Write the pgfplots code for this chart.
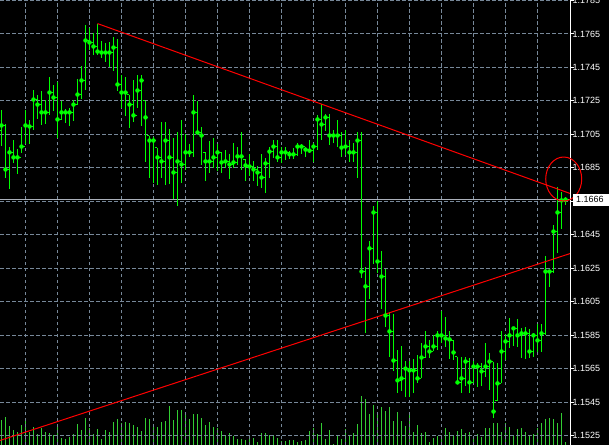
\documentclass[border=0pt]{standalone}
\usepackage{pgfplots}
\pgfplotsset{compat=1.18}
\usepackage{pgfplotstable}
\usepackage{fontspec}
\setmainfont{Liberation Sans}

\definecolor{barlime}{RGB}{0,255,0}
\definecolor{vollime}{RGB}{50,205,50}
\definecolor{gridgray}{RGB}{119,136,153}
\definecolor{bidgray}{RGB}{170,176,186}

% hourly bars: index, open, high, low, close
\pgfplotstableread{
i o h l c
0 1.17073 1.17193 1.16983 1.17103
1 1.17103 1.17109 1.16792 1.16840
2 1.16840 1.16977 1.16726 1.16942
3 1.16942 1.17019 1.16876 1.16912
4 1.16912 1.16965 1.16810 1.16912
5 1.16912 1.17091 1.16936 1.16977
6 1.16977 1.17193 1.16995 1.17103
7 1.17103 1.17133 1.16995 1.17097
8 1.17097 1.17318 1.17073 1.17258
9 1.17258 1.17288 1.17139 1.17228
10 1.17228 1.17312 1.17103 1.17181
11 1.17181 1.17258 1.17109 1.17181
12 1.17181 1.17390 1.17163 1.17300
13 1.17300 1.17342 1.17187 1.17270
14 1.17270 1.17360 1.17031 1.17139
15 1.17139 1.17252 1.17133 1.17181
16 1.17181 1.17199 1.17115 1.17181
17 1.17181 1.17210 1.17097 1.17181
18 1.17181 1.17258 1.17127 1.17228
19 1.17228 1.17378 1.17228 1.17288
20 1.17288 1.17461 1.17264 1.17372
21 1.17372 1.17701 1.17318 1.17611
22 1.17611 1.17683 1.17557 1.17599
23 1.17599 1.17653 1.17527 1.17575
24 1.17575 1.17712 1.17527 1.17545
25 1.17545 1.17605 1.17509 1.17539
26 1.17539 1.17593 1.17485 1.17539
27 1.17539 1.17599 1.17455 1.17539
28 1.17539 1.17629 1.17426 1.17569
29 1.17569 1.17617 1.17312 1.17348
30 1.17348 1.17402 1.17205 1.17300
31 1.17300 1.17390 1.17157 1.17300
32 1.17288 1.17288 1.17085 1.17228
33 1.17228 1.17372 1.17121 1.17163
34 1.17163 1.17402 1.17205 1.17312
35 1.17312 1.17402 1.17097 1.17372
36 1.17252 1.17252 1.16882 1.17151
37 1.17043 1.17043 1.16792 1.17013
38 1.17013 1.17037 1.16762 1.17013
39 1.16971 1.16971 1.16750 1.16912
40 1.16912 1.17121 1.16792 1.16888
41 1.16888 1.17121 1.16750 1.17013
42 1.17013 1.17079 1.16756 1.16912
43 1.16912 1.17031 1.16661 1.16822
44 1.16822 1.17061 1.16619 1.16888
45 1.16888 1.17133 1.16762 1.16870
46 1.16870 1.17055 1.16834 1.16942
47 1.16942 1.16995 1.16912 1.16942
48 1.16942 1.17288 1.16912 1.17181
49 1.17181 1.17252 1.17055 1.17061
50 1.17061 1.17091 1.16864 1.17043
51 1.16942 1.16942 1.16774 1.16888
52 1.16888 1.17013 1.16816 1.16888
53 1.16888 1.17031 1.16846 1.16912
54 1.16912 1.16995 1.16828 1.16942
55 1.16942 1.16947 1.16816 1.16882
56 1.16882 1.16959 1.16846 1.16888
57 1.16888 1.16930 1.16786 1.16870
58 1.16870 1.17001 1.16846 1.16882
59 1.16882 1.16977 1.16864 1.16918
60 1.16918 1.17061 1.16834 1.16918
61 1.16900 1.16900 1.16774 1.16864
62 1.16864 1.16930 1.16798 1.16858
63 1.16858 1.16888 1.16774 1.16840
64 1.16840 1.16858 1.16744 1.16822
65 1.16822 1.16930 1.16732 1.16792
66 1.16792 1.16906 1.16702 1.16876
67 1.16876 1.16977 1.16792 1.16947
68 1.16947 1.17019 1.16906 1.16977
69 1.16977 1.17019 1.16882 1.16912
70 1.16912 1.16977 1.16876 1.16942
71 1.16942 1.16977 1.16894 1.16942
72 1.16942 1.16953 1.16900 1.16930
73 1.16930 1.16971 1.16900 1.16930
74 1.16930 1.17001 1.16918 1.16977
75 1.16977 1.16995 1.16930 1.16977
76 1.16977 1.16977 1.16912 1.16959
77 1.16959 1.17019 1.16936 1.16953
78 1.16953 1.17001 1.16882 1.16977
79 1.16977 1.17163 1.16959 1.17139
80 1.17139 1.17234 1.17019 1.17109
81 1.17109 1.17169 1.17067 1.17151
82 1.17151 1.17169 1.16989 1.17043
83 1.17043 1.17073 1.17001 1.17043
84 1.17043 1.17133 1.16977 1.17043
85 1.17043 1.17061 1.16912 1.16971
86 1.16971 1.17073 1.16924 1.16977
87 1.16977 1.17019 1.16882 1.16942
88 1.16942 1.17001 1.16882 1.16942
89 1.16942 1.17061 1.16792 1.17013
90 1.17013 1.17061 1.16194 1.16230
91 1.16230 1.16260 1.15860 1.16141
92 1.16141 1.16410 1.16063 1.16368
93 1.16368 1.16619 1.16272 1.16583
94 1.16583 1.16649 1.16224 1.16290
95 1.16290 1.16350 1.16003 1.16200
96 1.16200 1.16248 1.15901 1.15967
97 1.15967 1.15991 1.15722 1.15872
98 1.15872 1.15979 1.15633 1.15698
99 1.15698 1.15758 1.15501 1.15579
100 1.15579 1.15782 1.15513 1.15591
101 1.15591 1.15698 1.15477 1.15650
102 1.15650 1.15698 1.15477 1.15639
103 1.15639 1.15710 1.15501 1.15639
104 1.15639 1.15734 1.15561 1.15591
105 1.15591 1.15800 1.15591 1.15716
106 1.15716 1.15872 1.15716 1.15782
107 1.15782 1.15818 1.15716 1.15752
108 1.15752 1.15848 1.15752 1.15782
109 1.15782 1.15872 1.15758 1.15848
110 1.15848 1.15997 1.15800 1.15848
111 1.15848 1.15961 1.15776 1.15830
112 1.15830 1.15872 1.15710 1.15824
113 1.15818 1.15818 1.15704 1.15746
114 1.15722 1.15722 1.15561 1.15567
115 1.15567 1.15722 1.15501 1.15591
116 1.15591 1.15722 1.15543 1.15692
117 1.15692 1.15716 1.15501 1.15567
118 1.15567 1.15698 1.15561 1.15662
119 1.15662 1.15686 1.15537 1.15662
120 1.15662 1.15686 1.15543 1.15633
121 1.15633 1.15800 1.15597 1.15662
122 1.15662 1.15740 1.15519 1.15692
123 1.15692 1.15692 1.15352 1.15393
124 1.15459 1.15686 1.15459 1.15561
125 1.15561 1.15872 1.15561 1.15752
126 1.15752 1.15854 1.15704 1.15812
127 1.15812 1.15955 1.15770 1.15848
128 1.15848 1.15890 1.15782 1.15890
129 1.15890 1.15949 1.15776 1.15848
130 1.15848 1.15890 1.15716 1.15860
131 1.15860 1.15896 1.15710 1.15860
132 1.15860 1.15884 1.15716 1.15752
133 1.15752 1.15860 1.15722 1.15848
134 1.15848 1.15919 1.15746 1.15818
135 1.15818 1.15919 1.15746 1.15860
136 1.15860 1.16320 1.15848 1.16230
137 1.16230 1.16242 1.16135 1.16230
138 1.16230 1.16511 1.16224 1.16469
139 1.16469 1.16738 1.16338 1.16583
140 1.16583 1.16708 1.16487 1.16655
141 1.16655 1.16678 1.16625 1.16660
}\bars

% tick volume of each bar
\pgfplotstableread{
i v
0 25
1 28
2 19
3 15
4 13
5 20
6 27
7 13
8 18
9 11
10 17
11 13
12 12
13 10
14 21
15 7
16 6
17 8
18 11
19 21
20 15
21 27
22 17
23 11
24 16
25 6
26 15
27 13
28 23
29 26
30 22
31 23
32 22
33 20
34 18
35 14
36 27
37 26
38 21
39 18
40 23
41 24
42 39
43 25
44 35
45 35
46 33
47 26
48 31
49 31
50 27
51 20
52 23
53 18
54 17
55 14
56 10
57 12
58 9
59 6
60 6
61 5
62 9
63 7
64 3
65 12
66 12
67 10
68 9
69 7
70 4
71 4
72 5
73 5
74 3
75 4
76 5
77 14
78 17
79 11
80 22
81 6
82 15
83 1
84 9
85 6
86 16
87 9
88 12
89 21
90 49
91 46
92 31
93 40
94 33
95 38
96 34
97 38
98 24
99 33
100 24
101 19
102 32
103 13
104 20
105 12
106 13
107 3
108 7
109 9
110 10
111 17
112 13
113 9
114 14
115 16
116 12
117 13
118 8
119 11
120 8
121 17
122 17
123 22
124 22
125 13
126 22
127 18
128 10
129 16
130 17
131 13
132 10
133 11
134 17
135 22
136 26
137 27
138 26
139 22
140 32
141 3
}\vols

\begin{document}
\begin{tikzpicture}
\useasboundingbox (0,0) rectangle (609pt,445pt);
\fill[black] (0,0) rectangle (609pt,445pt);
\clip (0,0) rectangle (609pt,445pt);

% volumes along the bottom edge
\begin{axis}[
  at={(0,0)}, anchor=south west, scale only axis,
  width=570.5pt, height=445pt,
  xmin=-0.375, xmax=142.25, ymin=0, ymax=445,
  hide axis,
]
\addplot[ycomb, vollime, line width=1pt, mark=none] table[x=i, y=v] {\vols};
\end{axis}

% price bars, grid and trend lines
\begin{axis}[
  name=main,
  at={(0,0)}, anchor=south west, scale only axis,
  width=570.5pt, height=445pt,
  xmin=-0.375, xmax=142.25, ymin=1.15193, ymax=1.17853,
  axis line style={draw=none},
  xtick={6,14,...,134}, xticklabels={}, xtick style={draw=none},
  ytick={1.1525,1.1545,1.1565,1.1585,1.1605,1.1625,1.1645,1.1665,1.1685,1.1705,1.1725,1.1745,1.1765,1.1785},
  % the 1.1665 level sits under the bid price box
  yticklabels={1.1525,1.1545,1.1565,1.1585,1.1605,1.1625,1.1645,,1.1685,1.1705,1.1725,1.1745,1.1765,1.1785},
  ytick pos=right, yticklabel pos=right,
  tick align=outside, major tick length=3pt,
  ytick style={white, line width=1pt},
  yticklabel style={white, font=\fontsize{9}{10}\selectfont, anchor=west, inner sep=0pt, xshift=-1pt},
  grid=major,
  major grid style={gridgray, line width=1pt, dash pattern=on 3.5pt off 2.5pt},
]
% bid line
\addplot[bidgray, line width=1pt, mark=none] coordinates {(-1,1.1666) (150,1.1666)};
% high-low ranges
\addplot[barlime, only marks, mark=none,
  error bars/.cd, y dir=both, y explicit, error mark=none,
  error bar style={barlime, line width=1pt}]
  table[x=i, y=c,
    y error plus expr=\thisrow{h}-\thisrow{c},
    y error minus expr=\thisrow{c}-\thisrow{l}] {\bars};
% open ticks (left) and close ticks (right)
\addplot[barlime, only marks, mark=-, mark size=0.8pt,
  mark options={xshift=-1.3pt, line width=0.9pt}] table[x=i, y=o] {\bars};
\addplot[barlime, only marks, mark=-, mark size=0.8pt,
  mark options={xshift=1.3pt, line width=0.9pt}] table[x=i, y=c] {\bars};
% trend lines
\addplot[red, line width=1pt, mark=none] coordinates {(24,1.17712) (150,1.16629)};
\addplot[red, line width=1pt, mark=none] coordinates {(-5,1.15184) (150,1.16399)};
\coordinate (ring) at (axis cs:140.55,1.16783);
\coordinate (bid) at (axis cs:142.25,1.1666);
\end{axis}

\draw[white, line width=1pt] (main.south east) -- (main.north east);
\draw[red, line width=1pt] (ring) ellipse [x radius=18pt, y radius=22pt];
\fill[white] ([xshift=2.5pt, yshift=-6pt]bid) rectangle ++(40pt,12pt);
\node[anchor=west, inner sep=0pt, text=black, font=\fontsize{9}{10}\selectfont]
  at ([xshift=5.5pt]bid) {1.1666};
\end{tikzpicture}
\end{document}
